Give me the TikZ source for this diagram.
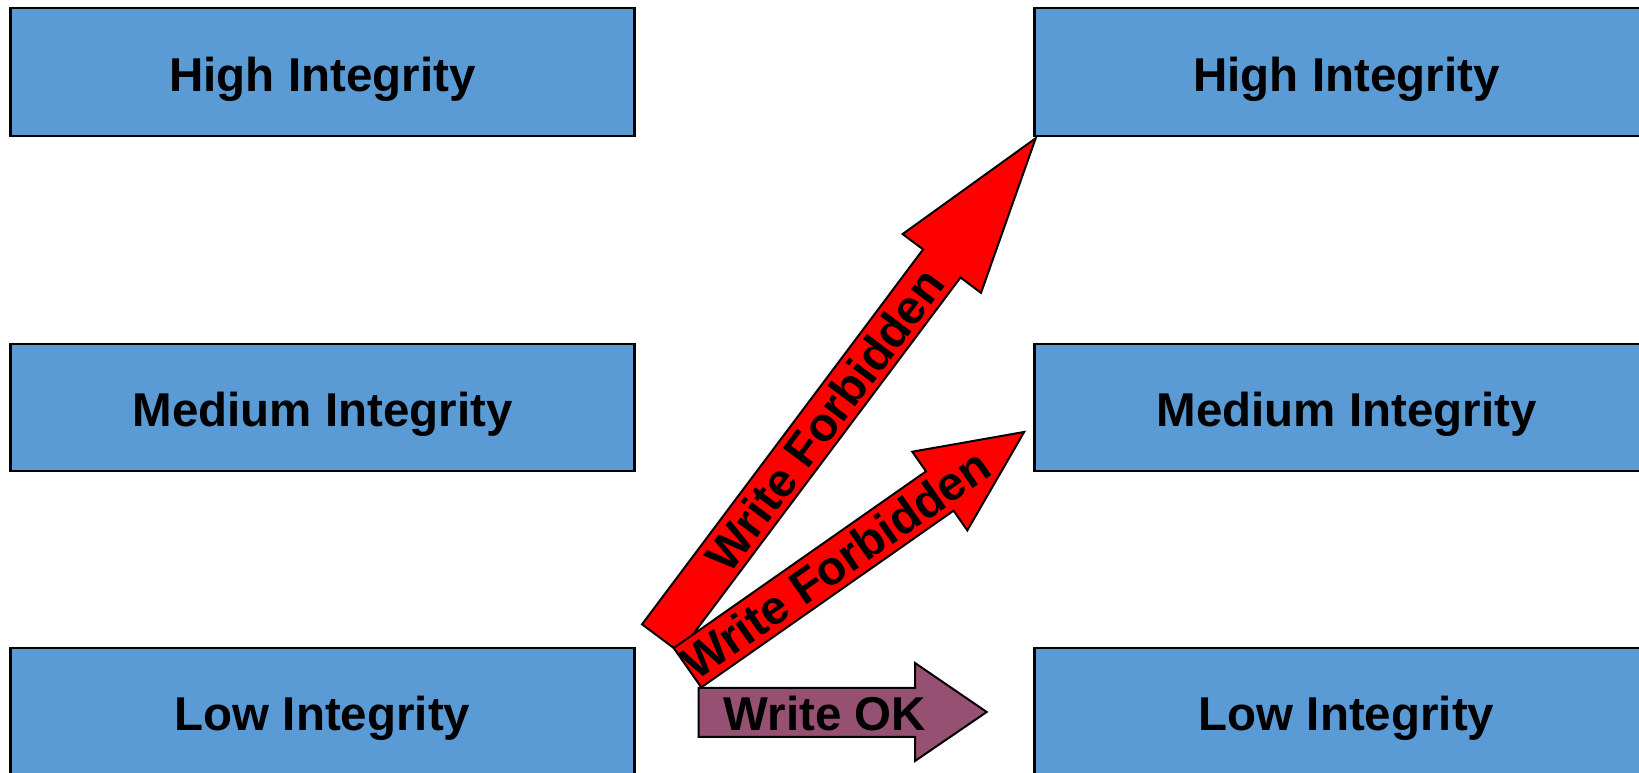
\documentclass[tikz,border=0pt]{standalone}
\usepackage{fontspec}
\setmainfont{Liberation Sans}
\definecolor{boxblue}{RGB}{91,155,213}
\definecolor{okpurple}{RGB}{150,80,114}
\begin{document}
\begin{tikzpicture}[x=1pt,y=1pt,
  level/.style={draw=black, line width=2.2pt, fill=boxblue,
    minimum width=624pt, minimum height=127.5pt, inner sep=0pt,
    text height=38pt, text depth=0pt,
    font=\bfseries\fontsize{47.5}{57}\selectfont},
  blockarrow/.style={draw=black, line width=2pt, line join=miter},
  arrowlabel/.style={inner sep=0pt, font=\bfseries\fontsize{47.5}{57}\selectfont}]
\useasboundingbox (0,0) rectangle (1639,773);
\clip (0,0) rectangle (1639,773);

% integrity levels, subject side (left) and object side (right)
\node[level] (hiL)  at (322.5,700.85) {High Integrity};
\node[level] (medL) at (322.5,365.35) {Medium Integrity};
\node[level] (lowL) at (322.5,61.25)  {Low Integrity};
\node[level] (hiR)  at (1346.5,700.85) {High Integrity};
\node[level] (medR) at (1346.5,365.35) {Medium Integrity};
\node[level] (lowR) at (1346.5,61.25)  {Low Integrity};

% tails of the block arrows
\coordinate (upHiTail)  at (660.8,134.7);
\coordinate (upMedTail) at (687.5,105.3);

% low -> high : forbidden
\begin{scope}[shift={(upHiTail)}, rotate=53.14]
  \draw[blockarrow, fill=red] (0,-23.4) -- (468.5,-23.4) -- (468.5,-49)
    -- (625,0) -- (468.5,49) -- (468.5,23.4) -- (0,23.4) -- cycle;
  \node[arrowlabel, transform shape] (wfHi) at (273,0) {Write Forbidden};
\end{scope}

% low -> low : allowed
\draw[blockarrow, fill=okpurple] (698.5,36) -- (915,36) -- (915,12)
  -- (986.7,61) -- (915,110) -- (915,85) -- (698.5,85) -- cycle;
\node[arrowlabel] (wok) at (825,59) {Write OK};

% low -> medium : forbidden
\begin{scope}[shift={(upMedTail)}, rotate=35]
  \draw[blockarrow, fill=red] (0,-24) -- (308,-24) -- (308,-48)
    -- (411,0) -- (308,48) -- (308,24) -- (0,24) -- cycle;
  \node[arrowlabel, transform shape] (wfMed) at (181,0) {Write Forbidden};
\end{scope}
\end{tikzpicture}
\end{document}
